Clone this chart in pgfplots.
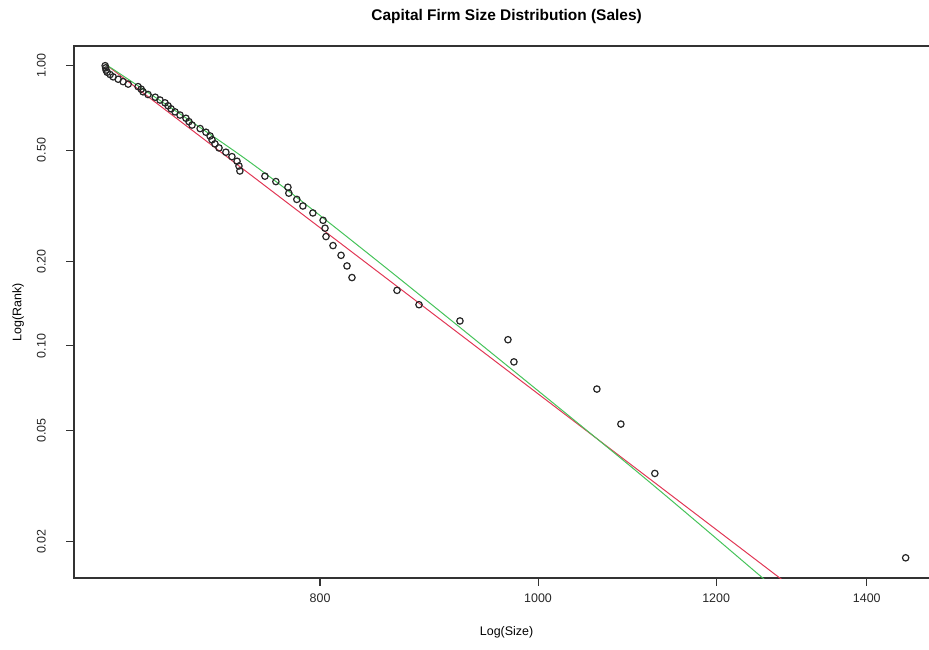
\documentclass[border=0pt]{standalone}
\usepackage{pgfplots}
\pgfplotsset{compat=1.18}
\usepackage{fontspec}
\setmainfont{Liberation Sans}
\definecolor{rline}{RGB}{225,55,85}
\definecolor{gline}{RGB}{70,195,90}
\pgfplotstableread{
x y
1456.9 0.017544
1127.0 0.035088
1088.5 0.052632
1062.1 0.070175
975.6 0.087719
969.7 0.105263
923.2 0.122807
885.3 0.140351
865.6 0.157895
826.6 0.175439
822.4 0.192982
817.4 0.210526
810.7 0.228070
804.9 0.245614
804.1 0.263158
802.5 0.280702
794.3 0.298246
786.2 0.315789
781.4 0.333333
775.0 0.350877
774.2 0.368421
764.8 0.385965
756.2 0.403509
737.1 0.421053
736.4 0.438596
734.9 0.456140
731.1 0.473684
726.6 0.491228
721.5 0.508772
718.5 0.526316
716.3 0.543860
714.9 0.561404
711.9 0.578947
707.6 0.596491
701.8 0.614035
699.6 0.631579
697.5 0.649123
693.2 0.666667
689.7 0.684211
686.9 0.701754
684.8 0.719298
682.7 0.736842
679.2 0.754386
675.8 0.771930
670.9 0.789474
667.5 0.807018
666.2 0.824561
664.1 0.842105
657.4 0.859649
654.0 0.877193
650.7 0.894737
647.4 0.912281
645.4 0.929825
643.4 0.947368
642.7 0.964912
642.4 0.982456
642.1 1.000000
}\pts
\begin{document}
\begin{tikzpicture}[x=1bp,y=1bp]
\useasboundingbox (0,0) rectangle (929,650);
\begin{axis}[
  at={(74bp,72bp)}, anchor=south west,
  scale only axis, width=865bp, height=532bp,
  xmode=log, ymode=log,
  xmin=622, xmax=1507.6, ymin=0.01486, ymax=1.1757,
  xtick={800,1000,1200,1400}, xticklabels={800,1000,1200,1400},
  ytick={0.02,0.05,0.1,0.2,0.5,1}, yticklabels={0.02,0.05,0.10,0.20,0.50,1.00},
  minor xtick={}, minor ytick={},
  tick align=outside, tick pos=left, major tick length=8bp,
  axis line style={line width=1.4bp, black!80},
  every tick/.style={black!80, line width=1.1bp},
  tick label style={font=\fontsize{12.5}{14}\selectfont, text=black!85},
  yticklabel style={rotate=90, anchor=south},
  yticklabel shift=17bp,
  xticklabel shift=4bp,
  every axis x label/.style={at={(axis description cs:0.5,-0.1015)}, anchor=center, font=\fontsize{12.5}{14}\selectfont},
  every axis y label/.style={at={(axis description cs:-0.0647,0.5)}, rotate=90, anchor=center, font=\fontsize{12.5}{14}\selectfont},
  every axis title/.style={at={(axis description cs:0.5,1.056)}, anchor=center, font=\bfseries\fontsize{15.5}{17}\selectfont},
  xlabel={Log(Size)}, ylabel={Log(Rank)},
  title={Capital Firm Size Distribution (Sales)},
]
\addplot[rline, line width=1bp] coordinates {(642.1,1.014) (1290,0.01422)};
\addplot[gline, line width=1bp, smooth] coordinates {(642.1,1.014) (742.4,0.4608) (850.6,0.1977) (1090.7,0.0392) (1258.6,0.01486) (1265,0.0144)};
\addplot[only marks, mark=o, mark size=3.2bp, mark options={line width=1.2bp, draw=black!85}] table[x=x,y=y] {\pts};
\end{axis}
\end{tikzpicture}
\end{document}
